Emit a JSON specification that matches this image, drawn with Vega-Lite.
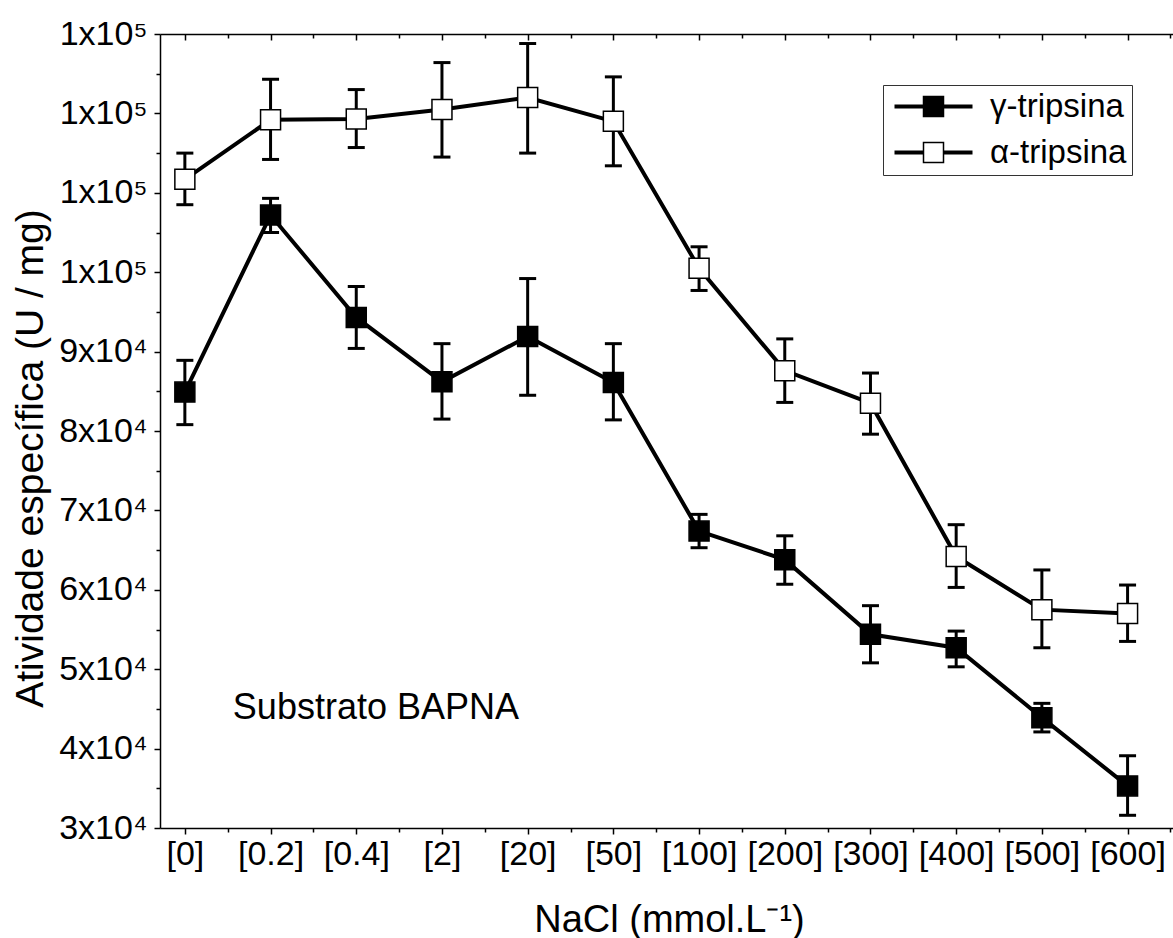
{
  "$schema": "https://vega.github.io/schema/vega-lite/v6.json",
  "width": 1013,
  "height": 794,
  "autosize": "none",
  "padding": {"left": 160, "top": 34, "right": 0, "bottom": 110},
  "background": "white",
  "config": {
    "view": {"stroke": null},
    "font": "Liberation Sans",
    "axis": {
      "grid": false,
      "domainColor": "black",
      "tickColor": "black",
      "labelColor": "black",
      "titleColor": "black",
      "labelFont": "Liberation Sans",
      "titleFont": "Liberation Sans",
      "labelFontSize": 34,
      "titleFontSize": 38,
      "titleFontWeight": "normal",
      "domainWidth": 1.5,
      "tickWidth": 1.5,
      "labelFlush": false,
      "labelOverlap": false
    }
  },
  "datasets": {
    "trip": [
      {"serie": "α-tripsina", "nacl": "[0]", "i": 0, "v": 111700, "lo": 108500, "hi": 115000},
      {"serie": "α-tripsina", "nacl": "[0.2]", "i": 1, "v": 119200, "lo": 114200, "hi": 124300},
      {"serie": "α-tripsina", "nacl": "[0.4]", "i": 2, "v": 119300, "lo": 115700, "hi": 123000},
      {"serie": "α-tripsina", "nacl": "[2]", "i": 3, "v": 120500, "lo": 114500, "hi": 126400},
      {"serie": "α-tripsina", "nacl": "[20]", "i": 4, "v": 122000, "lo": 115000, "hi": 128800},
      {"serie": "α-tripsina", "nacl": "[50]", "i": 5, "v": 119000, "lo": 113400, "hi": 124600},
      {"serie": "α-tripsina", "nacl": "[100]", "i": 6, "v": 100500, "lo": 97700, "hi": 103200},
      {"serie": "α-tripsina", "nacl": "[200]", "i": 7, "v": 87600, "lo": 83600, "hi": 91600},
      {"serie": "α-tripsina", "nacl": "[300]", "i": 8, "v": 83500, "lo": 79600, "hi": 87300},
      {"serie": "α-tripsina", "nacl": "[400]", "i": 9, "v": 64200, "lo": 60300, "hi": 68200},
      {"serie": "α-tripsina", "nacl": "[500]", "i": 10, "v": 57500, "lo": 52700, "hi": 62500},
      {"serie": "α-tripsina", "nacl": "[600]", "i": 11, "v": 57000, "lo": 53500, "hi": 60600},
      {"serie": "γ-tripsina", "nacl": "[0]", "i": 0, "v": 84900, "lo": 80800, "hi": 88900},
      {"serie": "γ-tripsina", "nacl": "[0.2]", "i": 1, "v": 107200, "lo": 105000, "hi": 109300},
      {"serie": "γ-tripsina", "nacl": "[0.4]", "i": 2, "v": 94300, "lo": 90400, "hi": 98200},
      {"serie": "γ-tripsina", "nacl": "[2]", "i": 3, "v": 86200, "lo": 81500, "hi": 91000},
      {"serie": "γ-tripsina", "nacl": "[20]", "i": 4, "v": 91900, "lo": 84500, "hi": 99200},
      {"serie": "γ-tripsina", "nacl": "[50]", "i": 5, "v": 86100, "lo": 81400, "hi": 91000},
      {"serie": "γ-tripsina", "nacl": "[100]", "i": 6, "v": 67400, "lo": 65300, "hi": 69500},
      {"serie": "γ-tripsina", "nacl": "[200]", "i": 7, "v": 63800, "lo": 60700, "hi": 66800},
      {"serie": "γ-tripsina", "nacl": "[300]", "i": 8, "v": 54400, "lo": 50800, "hi": 58000},
      {"serie": "γ-tripsina", "nacl": "[400]", "i": 9, "v": 52700, "lo": 50300, "hi": 54800},
      {"serie": "γ-tripsina", "nacl": "[500]", "i": 10, "v": 43900, "lo": 42100, "hi": 45700},
      {"serie": "γ-tripsina", "nacl": "[600]", "i": 11, "v": 35300, "lo": 31600, "hi": 39100}
    ],
    "notes": [
      {"x": 0.56, "y": 43700, "label": "Substrato BAPNA"}
    ]
  },
  "resolve": {"axis": {"x": "independent", "y": "independent"}},
  "layer": [
    {
      "data": {"name": "trip"},
      "mark": {"type": "rule", "strokeWidth": 3, "color": "black"},
      "encoding": {
        "x": {
          "field": "i", "type": "quantitative",
          "scale": {"domain": [-0.29, 11.53], "nice": false, "zero": false},
          "axis": {
            "orient": "bottom",
            "values": [0, 1, 2, 3, 4, 5, 6, 7, 8, 9, 10, 11],
            "labelExpr": "['[0]','[0.2]','[0.4]','[2]','[20]','[50]','[100]','[200]','[300]','[400]','[500]','[600]'][datum.value]",
            "tickSize": 6,
            "labelPadding": 3,
            "title": "NaCl (mmol.L⁻¹)",
            "titleX": 509,
            "titleY": 103,
            "titleAlign": "center",
            "titleBaseline": "alphabetic"
          }
        },
        "y": {
          "field": "lo", "type": "quantitative",
          "scale": {"domain": [30000, 130000], "nice": false, "zero": false},
          "axis": {
            "orient": "left",
            "values": [30000, 40000, 50000, 60000, 70000, 80000, 90000, 100000, 110000, 120000, 130000],
            "labelExpr": "datum.value >= 100000 ? '1x10⁵' : (datum.value / 10000) + 'x10⁴'",
            "tickSize": 6,
            "labelPadding": 7,
            "title": "Atividade específica (U / mg)",
            "titleFontSize": 39,
            "titleX": -118,
            "titleY": 424,
            "titleAngle": -90,
            "titleAlign": "center",
            "titleBaseline": "alphabetic"
          }
        },
        "y2": {"field": "hi"}
      }
    },
    {
      "data": {"name": "trip"},
      "mark": {"type": "tick", "orient": "horizontal", "size": 17, "thickness": 3, "color": "black", "opacity": 1},
      "encoding": {
        "x": {
          "field": "i", "type": "quantitative",
          "scale": {"domain": [-0.29, 11.53], "nice": false, "zero": false},
          "axis": {
            "orient": "bottom",
            "values": [0.5, 1.5, 2.5, 3.5, 4.5, 5.5, 6.5, 7.5, 8.5, 9.5, 10.5, 11.5],
            "labels": false, "domain": false, "tickSize": 4, "title": null
          }
        },
        "y": {
          "field": "lo", "type": "quantitative",
          "scale": {"domain": [30000, 130000], "nice": false, "zero": false},
          "axis": {
            "orient": "left",
            "values": [35000, 45000, 55000, 65000, 75000, 85000, 95000, 105000, 115000, 125000],
            "labels": false, "domain": false, "tickSize": 4, "title": null
          }
        }
      }
    },
    {
      "data": {"name": "trip"},
      "mark": {"type": "tick", "orient": "horizontal", "size": 17, "thickness": 3, "color": "black", "opacity": 1},
      "encoding": {
        "x": {
          "field": "i", "type": "quantitative",
          "scale": {"domain": [-0.29, 11.53], "nice": false, "zero": false},
          "axis": {
            "orient": "top",
            "values": [0, 1, 2, 3, 4, 5, 6, 7, 8, 9, 10, 11],
            "labels": false, "tickSize": -6, "title": null
          }
        },
        "y": {
          "field": "hi", "type": "quantitative",
          "scale": {"domain": [30000, 130000], "nice": false, "zero": false},
          "axis": null
        }
      }
    },
    {
      "data": {"name": "trip"},
      "mark": {"type": "line", "strokeWidth": 4},
      "encoding": {
        "x": {
          "field": "i", "type": "quantitative",
          "scale": {"domain": [-0.29, 11.53], "nice": false, "zero": false},
          "axis": {
            "orient": "top",
            "values": [0.5, 1.5, 2.5, 3.5, 4.5, 5.5, 6.5, 7.5, 8.5, 9.5, 10.5, 11.5],
            "labels": false, "domain": false, "tickSize": -4, "title": null
          }
        },
        "y": {
          "field": "v", "type": "quantitative",
          "scale": {"domain": [30000, 130000], "nice": false, "zero": false},
          "axis": null
        },
        "color": {
          "field": "serie", "type": "nominal",
          "scale": {"domain": ["γ-tripsina", "α-tripsina"], "range": ["black", "black"]},
          "legend": {
            "title": null,
            "orient": "none",
            "legendX": 723,
            "legendY": 51,
            "direction": "vertical",
            "symbolType": "M-3.9,0H3.9",
            "symbolSize": 400,
            "symbolStrokeWidth": 4,
            "symbolStrokeColor": "black",
            "symbolOffset": 29,
            "labelOffset": 40,
            "labelFont": "Liberation Sans",
            "labelFontSize": 33,
            "labelColor": "black",
            "labelLimit": 400,
            "padding": 5,
            "rowPadding": 12,
            "strokeColor": "#333333"
          }
        }
      }
    },
    {
      "data": {"name": "trip"},
      "mark": {"type": "point", "shape": "square", "size": 400, "filled": true, "stroke": "black", "strokeWidth": 1.5, "opacity": 1},
      "encoding": {
        "x": {
          "field": "i", "type": "quantitative",
          "scale": {"domain": [-0.29, 11.53], "nice": false, "zero": false},
          "axis": null
        },
        "y": {
          "field": "v", "type": "quantitative",
          "scale": {"domain": [30000, 130000], "nice": false, "zero": false},
          "axis": null
        },
        "fill": {
          "field": "serie", "type": "nominal", "sort": "descending",
          "scale": {"range": ["black", "white"]},
          "legend": {
            "title": null,
            "orient": "none",
            "legendX": 723,
            "legendY": 51,
            "direction": "vertical",
            "symbolType": "square",
            "symbolSize": 400,
            "symbolStrokeWidth": 1.5,
            "symbolStrokeColor": "black",
            "symbolOffset": 29,
            "labelOffset": 40,
            "labelFont": "Liberation Sans",
            "labelFontSize": 33,
            "labelOpacity": 0,
            "labelLimit": 400,
            "padding": 5,
            "rowPadding": 12
          }
        }
      }
    },
    {
      "data": {"name": "notes"},
      "mark": {"type": "text", "align": "left", "baseline": "alphabetic", "fontSize": 36, "font": "Liberation Sans", "color": "black"},
      "encoding": {
        "x": {
          "field": "x", "type": "quantitative",
          "scale": {"domain": [-0.29, 11.53], "nice": false, "zero": false},
          "axis": null
        },
        "y": {
          "field": "y", "type": "quantitative",
          "scale": {"domain": [30000, 130000], "nice": false, "zero": false},
          "axis": null
        },
        "text": {"field": "label"}
      }
    }
  ]
}
